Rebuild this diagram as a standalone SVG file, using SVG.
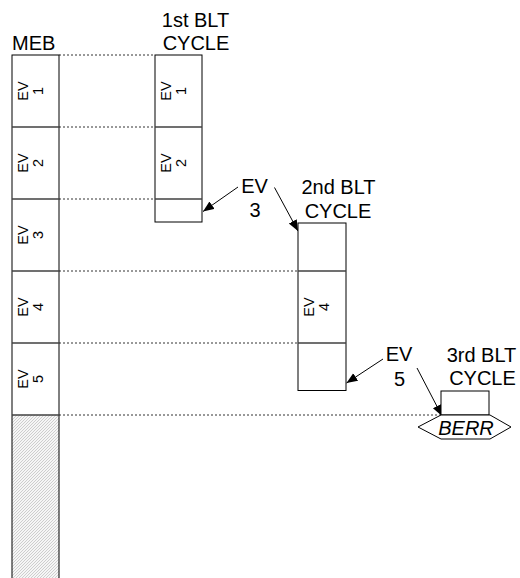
<svg xmlns="http://www.w3.org/2000/svg" width="520" height="578" viewBox="0 0 520 578">
<style>
  text { font-family: "Liberation Sans", Arial, sans-serif; fill: #000; }
  .lbl { font-size: 20px; }
  .ev { font-size: 14.5px; text-anchor: middle; }
  .box { fill: #fff; stroke: #000; stroke-width: 1; }
  .div { stroke: #404040; stroke-width: 1.4; }
  .dot { stroke: #333; stroke-width: 1; stroke-dasharray: 2 2; fill: none; }
  .arr { stroke: #000; stroke-width: 1; fill: none; marker-end: url(#ah); }
</style>
<defs>
  <marker id="ah" markerUnits="userSpaceOnUse" markerWidth="12" markerHeight="10" refX="11" refY="4.5" orient="auto">
    <path d="M0,0 L11,4.5 L0,9 z" fill="#000"/>
  </marker>
  <pattern id="hatch" patternUnits="userSpaceOnUse" width="3" height="3">
    <rect width="3" height="3" fill="#f6f6f6"/>
    <path d="M-1,1 L1,-1 M0,3 L3,0 M2,4 L4,2" stroke="#b4b4b4" stroke-width="0.6"/>
  </pattern>
</defs>

<g id="connectors">
  <line class="dot" x1="59" y1="55" x2="155" y2="55"/>
  <line class="dot" x1="59" y1="127" x2="155" y2="127"/>
  <line class="dot" x1="59" y1="199" x2="155" y2="199"/>
  <line class="dot" x1="59" y1="271" x2="298" y2="271"/>
  <line class="dot" x1="59" y1="343" x2="298" y2="343"/>
  <line class="dot" x1="59" y1="415" x2="441" y2="415"/>
  <line class="arr" x1="238" y1="187" x2="203" y2="211.5"/>
  <line class="arr" x1="274.5" y1="187.5" x2="298" y2="231"/>
  <line class="arr" x1="383" y1="359" x2="346.5" y2="383"/>
  <line class="arr" x1="417" y1="368" x2="442" y2="416"/>
</g>

<g id="meb">
  <text class="lbl" x="12" y="50">MEB</text>
  <rect x="12" y="415" width="47" height="170" fill="url(#hatch)" stroke="none"/>
  <rect x="12" y="55" width="47" height="530" fill="none" stroke="#000" stroke-width="1"/>
  <line class="div" x1="12" y1="127" x2="59" y2="127"/>
  <line class="div" x1="12" y1="199" x2="59" y2="199"/>
  <line class="div" x1="12" y1="271" x2="59" y2="271"/>
  <line class="div" x1="12" y1="343" x2="59" y2="343"/>
  <line class="div" x1="12" y1="415" x2="59" y2="415"/>
  <text class="ev" transform="translate(12,91) rotate(-90)"><tspan x="0" y="16">EV</tspan><tspan x="0" y="31">1</tspan></text>
  <text class="ev" transform="translate(12,163) rotate(-90)"><tspan x="0" y="16">EV</tspan><tspan x="0" y="31">2</tspan></text>
  <text class="ev" transform="translate(12,235) rotate(-90)"><tspan x="0" y="16">EV</tspan><tspan x="0" y="31">3</tspan></text>
  <text class="ev" transform="translate(12,307) rotate(-90)"><tspan x="0" y="16">EV</tspan><tspan x="0" y="31">4</tspan></text>
  <text class="ev" transform="translate(12,379) rotate(-90)"><tspan x="0" y="16">EV</tspan><tspan x="0" y="31">5</tspan></text>
</g>

<g id="blt1">
  <text class="lbl" text-anchor="middle" x="195.5" y="27">1st BLT</text>
  <text class="lbl" text-anchor="middle" x="196" y="50">CYCLE</text>
  <rect class="box" x="155" y="55" width="47" height="167"/>
  <line class="div" x1="155" y1="127" x2="202" y2="127"/>
  <line class="div" x1="155" y1="199" x2="202" y2="199"/>
  <text class="ev" transform="translate(155,91) rotate(-90)"><tspan x="0" y="16">EV</tspan><tspan x="0" y="31">1</tspan></text>
  <text class="ev" transform="translate(155,163) rotate(-90)"><tspan x="0" y="16">EV</tspan><tspan x="0" y="31">2</tspan></text>
</g>

<g id="ev3-label">
  <text class="lbl" text-anchor="middle" x="254.5" y="193">EV</text>
  <text class="lbl" text-anchor="middle" x="255" y="217">3</text>
</g>

<g id="blt2">
  <text class="lbl" text-anchor="middle" x="338.5" y="194">2nd BLT</text>
  <text class="lbl" text-anchor="middle" x="338" y="218">CYCLE</text>
  <rect class="box" x="298" y="223" width="48" height="167.5"/>
  <line class="div" x1="298" y1="271" x2="346" y2="271"/>
  <line class="div" x1="298" y1="343" x2="346" y2="343"/>
  <text class="ev" transform="translate(298,307) rotate(-90)"><tspan x="0" y="16">EV</tspan><tspan x="0" y="31">4</tspan></text>
</g>

<g id="ev5-label">
  <text class="lbl" text-anchor="middle" x="399" y="361">EV</text>
  <text class="lbl" text-anchor="middle" x="399.5" y="386">5</text>
</g>

<g id="blt3">
  <text class="lbl" text-anchor="middle" x="481.5" y="362">3rd BLT</text>
  <text class="lbl" text-anchor="middle" x="482.5" y="385">CYCLE</text>
  <rect class="box" x="441" y="391" width="48" height="24"/>
</g>

<g id="berr">
  <polygon points="418,427 441,415 490,415 511,427 490,439 441,439" fill="#fff" stroke="#000" stroke-width="1"/>
  <text class="lbl" text-anchor="middle" font-style="italic" font-size="21" x="466" y="435">BERR</text>
</g>
</svg>
